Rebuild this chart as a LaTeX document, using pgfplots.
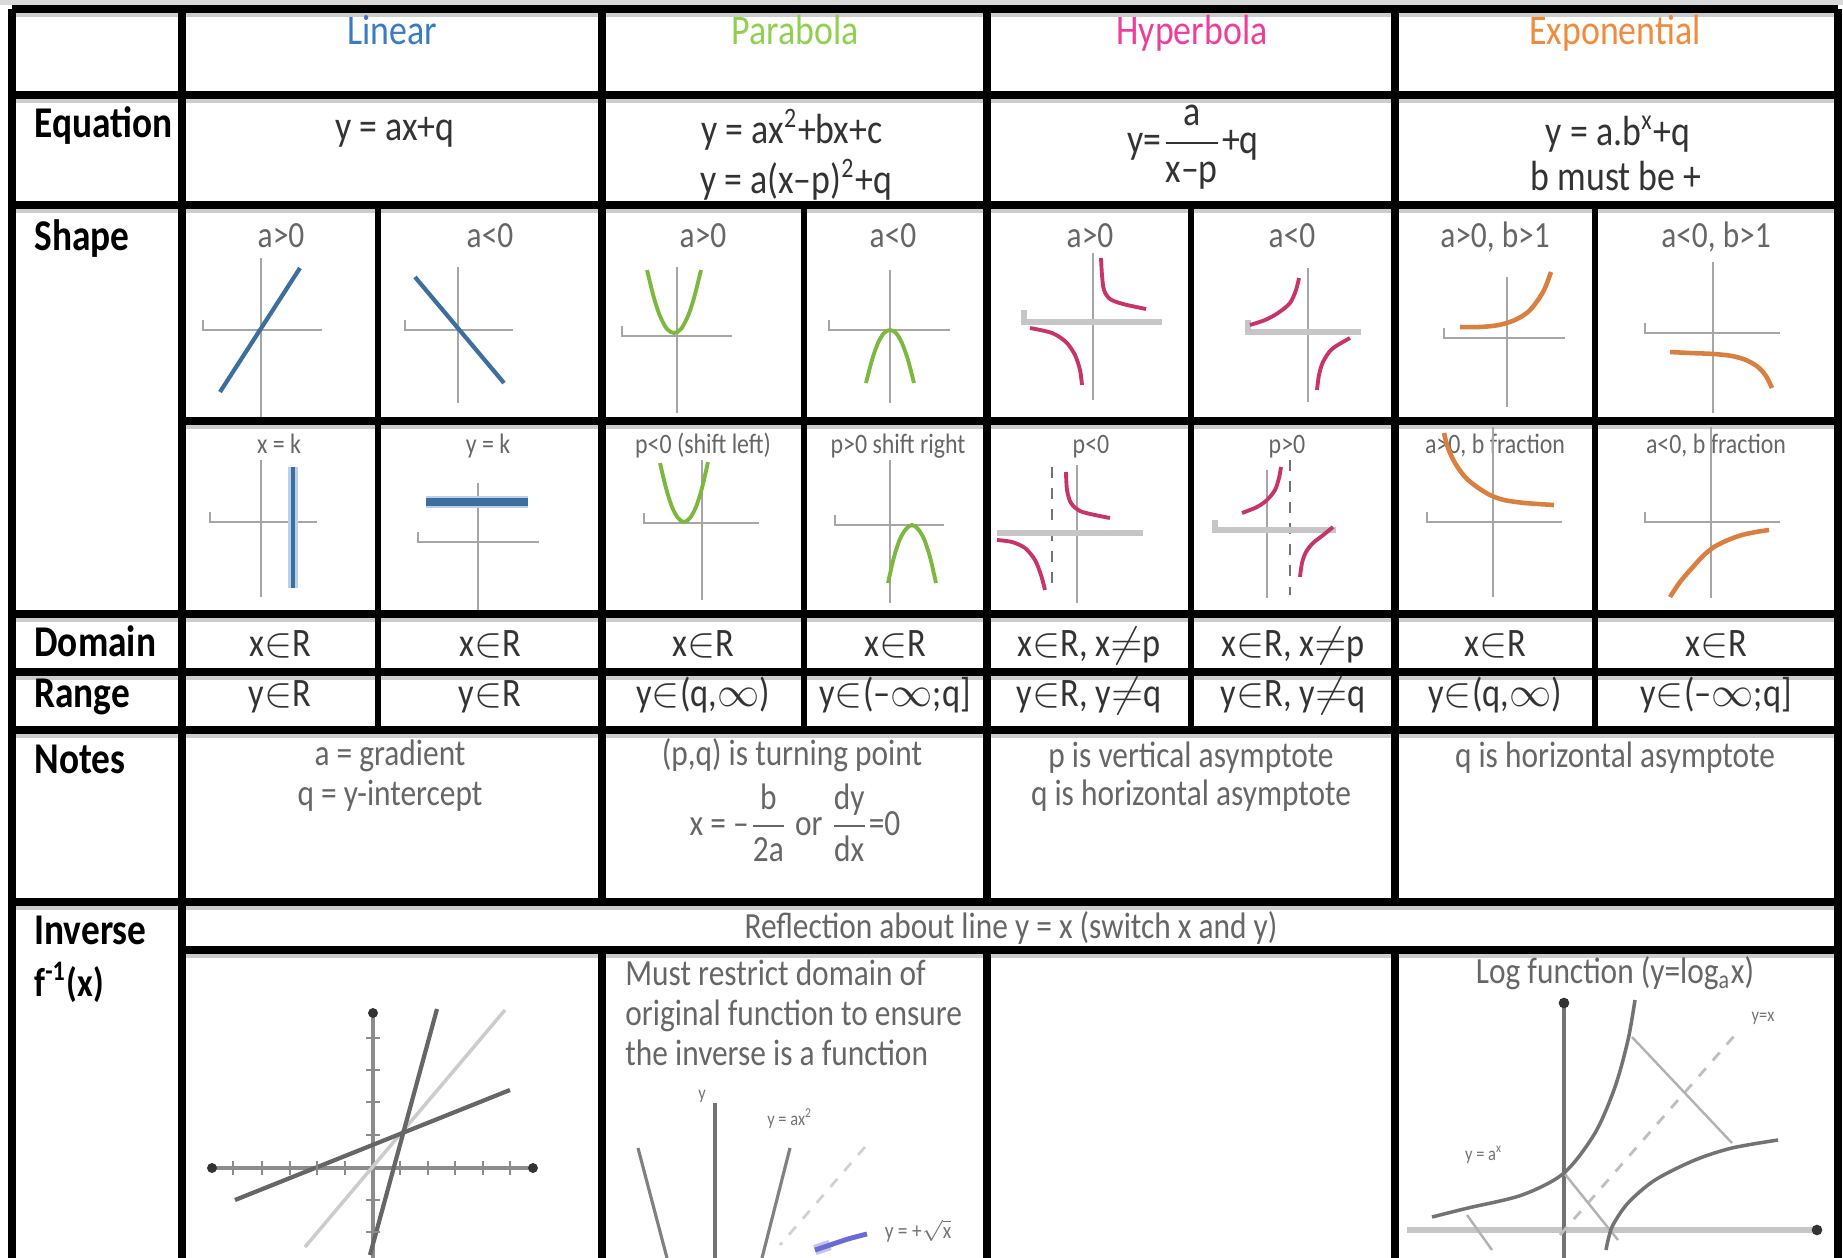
\documentclass[border=0pt]{standalone}
\usepackage{pgfplots}
\pgfplotsset{compat=1.18}
\usepackage{fontspec}
\setmainfont{Carlito}[FakeStretch=0.85]

\definecolor{linblue}{HTML}{3A7CC4}
\definecolor{parg}{HTML}{8FD14F}
\definecolor{hypm}{HTML}{EE3E9B}
\definecolor{expo}{HTML}{F08A3C}
\definecolor{lineb}{HTML}{3E6E9E}
\definecolor{curveg}{HTML}{7DB83E}
\definecolor{curvem}{HTML}{C8346A}
\definecolor{curveo}{HTML}{D98040}
\definecolor{axg}{HTML}{A6A6A6}
\definecolor{sqrtc}{HTML}{6B6BD6}

\tikzset{
  ax/.style={axg, line width=0.6pt},
  axb/.style={gray!45, line width=1.6pt},
  asy/.style={black!55, line width=0.6pt, dashed},
  lin/.style={lineb, line width=1.2pt},
  par/.style={curveg, line width=1.1pt},
  hyp/.style={curvem, line width=1.1pt},
  ex/.style={curveo, line width=1.3pt},
  inv/.style={black!60, line width=1.2pt},
  grid/.style={black, line width=2pt},
  sub/.style={black, line width=1.6pt},
  halo/.style={gray!40, line width=3pt},
  rowlab/.style={anchor=base west, font=\fontsize{12.5}{15}\selectfont\bfseries, text=black},
  head/.style={anchor=base, font=\fontsize{12}{14}\selectfont},
  eqn/.style={anchor=base, font=\fontsize{12}{14}\selectfont, text=black!80},
  lab/.style={anchor=base, font=\fontsize{10.5}{12}\selectfont, text=black!60},
  labs/.style={anchor=base, font=\fontsize{8}{10}\selectfont, text=black!60},
  dr/.style={anchor=base, font=\fontsize{11.5}{13}\selectfont, text=black!80},
  note/.style={anchor=base, font=\fontsize{10.5}{12}\selectfont, text=black!60},
  tiny/.style={anchor=base, font=\fontsize{5.5}{6}\selectfont, text=black!55},
}

\begin{document}
\begin{tikzpicture}
\begin{axis}[
  width=18.43cm, height=12.58cm, scale only axis,
  xmin=0, xmax=1843, ymin=0, ymax=1258, y dir=reverse,
  hide axis, clip=false,
]
% ---- table grid ----
\fill[gray!30] (0,0) rectangle (1843,5);
\draw[halo] (12,12) -- (1838,12);
\draw[halo] (12,98) -- (1838,98);
\draw[halo] (12,208) -- (1838,208);
\draw[halo] (182,424) -- (1838,424);
\draw[halo] (12,617) -- (1838,617);
\draw[halo] (12,675) -- (1838,675);
\draw[halo] (12,733) -- (1838,733);
\draw[halo] (12,905) -- (1838,905);
\draw[halo] (182,953) -- (1838,953);
\draw[grid] (12,9) -- (1838,9);
\draw[grid] (12,95) -- (1838,95);
\draw[grid] (12,205) -- (1838,205);
\draw[grid] (182,421) -- (1838,421);
\draw[grid] (12,614) -- (1838,614);
\draw[grid] (12,672) -- (1838,672);
\draw[grid] (12,730) -- (1838,730);
\draw[grid] (12,902) -- (1838,902);
\draw[grid] (182,950) -- (1838,950);
\draw[grid] (12,9) -- (12,1258);
\draw[grid] (182,9) -- (182,1258);
\draw[grid] (1838,9) -- (1838,1258);
\draw[grid] (602,9) -- (602,902);
\draw[grid] (602,950) -- (602,1258);
\draw[grid] (987,9) -- (987,902);
\draw[grid] (987,950) -- (987,1258);
\draw[grid] (1395,9) -- (1395,902);
\draw[grid] (1395,950) -- (1395,1258);
\draw[sub] (378,205) -- (378,730);
\draw[sub] (804,205) -- (804,730);
\draw[sub] (1191,205) -- (1191,730);
\draw[sub] (1595,205) -- (1595,730);

% ---- row labels ----
\node[rowlab] at (22,137) {Equation};
\node[rowlab] at (22,250) {Shape};
\node[rowlab] at (22,656) {Domain};
\node[rowlab] at (22,707) {Range};
\node[rowlab] at (22,773) {Notes};
\node[rowlab] at (22,944) {Inverse};
\node[rowlab, font=\fontsize{11.5}{13}\selectfont\bfseries] at (22,996) {f\textsuperscript{-1}(x)};

% ---- headers ----
\node[head, text=linblue] at (392,44) {Linear};
\node[head, text=parg] at (795,44) {Parabola};
\node[head, text=hypm] at (1192,44) {Hyperbola};
\node[head, text=expo] at (1615,44) {Exponential};

% ---- equations ----
\node[eqn] at (395,140) {y = ax+q};
\node[eqn] at (792,143) {y = ax\textsuperscript{2}+bx+c};
\node[eqn] at (796,193) {y = a(x–p)\textsuperscript{2}+q};
\node[eqn, anchor=center] at (1193,147) {y=$\displaystyle\frac{\mbox{a}}{\mbox{x–p}}$+q};
\node[eqn] at (1618,145) {y = a.b\textsuperscript{x}+q};
\node[eqn] at (1616,190) {b must be +};

% ---- shape labels ----
\node[lab] at (281,247) {a>0};
\node[lab] at (490,247) {a<0};
\node[lab] at (703,247) {a>0};
\node[lab] at (893,247) {a<0};
\node[lab] at (1090,247) {a>0};
\node[lab] at (1292,247) {a<0};
\node[lab] at (1495,247) {a>0, b>1};
\node[lab] at (1716,247) {a<0, b>1};
\node[labs] at (279,453) {x = k};
\node[labs] at (488,453) {y = k};
\node[labs] at (703,453) {p<0 (shift left)};
\node[labs] at (898,453) {p>0 shift right};
\node[labs] at (1091,453) {p<0};
\node[labs] at (1287,453) {p>0};
\node[labs] at (1495,453) {a>0, b fraction};
\node[labs] at (1716,453) {a<0, b fraction};

% ---- shape graphs: linear ----
\addplot[ax] coordinates {(261,258) (261,417)};
\addplot[ax] coordinates {(203,320) (203,330) (322,330)};
\addplot[lin] coordinates {(220,392) (300,268)};

\addplot[ax] coordinates {(458,267) (458,403)};
\addplot[ax] coordinates {(405,320) (405,330) (513,330)};
\addplot[lin] coordinates {(415,277) (504,383)};

\addplot[ax] coordinates {(261,460) (261,597)};
\addplot[ax] coordinates {(210,512) (210,522) (317,522)};
\addplot[linblue!35, line width=2.6pt] coordinates {(293,467) (293,588)};
\addplot[lineb, line width=1.3pt] coordinates {(293,467) (293,588)};

\addplot[ax] coordinates {(478,483) (478,610)};
\addplot[ax] coordinates {(418,532) (418,542) (539,542)};
\addplot[linblue!35, line width=3.4pt] coordinates {(426,502) (528,502)};
\addplot[lineb, line width=2.2pt] coordinates {(426,502) (528,502)};

% ---- parabola ----
\addplot[ax] coordinates {(677,267) (677,413)};
\addplot[ax] coordinates {(622,326) (622,336) (732,336)};
\addplot[par, smooth] coordinates {(647,270) (654,298) (660,316) (667,329) (674,333) (681,329) (688,316) (694,298) (701,270)};

\addplot[ax] coordinates {(890,270) (890,403)};
\addplot[ax] coordinates {(829,320) (829,330) (950,330)};
\addplot[par, smooth] coordinates {(866,383) (872,360) (878,343) (884,333) (890,330) (896,333) (902,343) (908,360) (914,383)};

\addplot[ax] coordinates {(702,460) (702,600)};
\addplot[ax] coordinates {(644,513) (644,523) (759,523)};
\addplot[par, smooth] coordinates {(660,463) (666,488) (672,507) (678,518) (684,522) (690,518) (696,507) (702,488) (708,462)};

\addplot[ax] coordinates {(890,460) (890,603)};
\addplot[ax] coordinates {(835,515) (835,525) (944,525)};
\addplot[par, smooth] coordinates {(888,583) (894,557) (900,539) (906,529) (912,525) (918,529) (924,539) (930,557) (936,583)};

% ---- hyperbola ----
\addplot[ax] coordinates {(1093,253) (1093,400)};
\addplot[axb] coordinates {(1024,310) (1024,322) (1162,322)};
\addplot[hyp, smooth] coordinates {(1101,258) (1102,275) (1104,290) (1110,299) (1123,304) (1146,309)};
\addplot[hyp, smooth] coordinates {(1030,328) (1052,333) (1066,342) (1075,355) (1080,370) (1082,385)};

\addplot[ax] coordinates {(1308,268) (1308,402)};
\addplot[axb] coordinates {(1248,320) (1248,332) (1361,332)};
\addplot[hyp, smooth] coordinates {(1250,325) (1265,320) (1278,313) (1290,303) (1296,290) (1299,278)};
\addplot[hyp, smooth] coordinates {(1317,390) (1319,375) (1323,362) (1332,349) (1350,338)};

\addplot[ax] coordinates {(1077,465) (1077,603)};
\addplot[asy] coordinates {(1052,467) (1052,590)};
\addplot[axb] coordinates {(997,533) (1143,533)};
\addplot[hyp, smooth] coordinates {(1066,472) (1067,490) (1071,503) (1080,511) (1095,515) (1110,518)};
\addplot[hyp, smooth] coordinates {(997,540) (1012,542) (1025,548) (1035,560) (1041,575) (1045,590)};

\addplot[ax] coordinates {(1267,470) (1267,598)};
\addplot[asy] coordinates {(1290,460) (1290,595)};
\addplot[axb] coordinates {(1215,520) (1215,530) (1336,530)};
\addplot[hyp, smooth] coordinates {(1242,513) (1257,507) (1267,500) (1275,490) (1279,478) (1281,467)};
\addplot[hyp, smooth] coordinates {(1300,577) (1302,563) (1306,552) (1313,543) (1322,536) (1333,527)};

% ---- exponential ----
\addplot[ax] coordinates {(1507,277) (1507,407)};
\addplot[ax] coordinates {(1444,328) (1444,338) (1565,338)};
\addplot[ex, smooth] coordinates {(1460,327) (1480,327) (1499,325) (1515,320) (1528,312) (1538,300) (1545,288) (1551,272)};

\addplot[ax] coordinates {(1713,262) (1713,413)};
\addplot[ax] coordinates {(1645,323) (1645,333) (1780,333)};
\addplot[ex, smooth] coordinates {(1670,352) (1690,353) (1714,354) (1732,356) (1746,360) (1758,367) (1766,376) (1772,388)};

\addplot[ax] coordinates {(1493,427) (1493,597)};
\addplot[ax] coordinates {(1427,512) (1427,522) (1562,522)};
\addplot[ex, smooth] coordinates {(1444,433) (1448,448) (1455,463) (1465,477) (1477,487) (1490,495) (1504,500) (1525,503) (1554,505)};

\addplot[ax] coordinates {(1711,427) (1711,598)};
\addplot[ax] coordinates {(1645,512) (1645,522) (1780,522)};
\addplot[ex, smooth] coordinates {(1670,597) (1680,582) (1692,568) (1703,556) (1714,547) (1728,540) (1742,535) (1756,532) (1769,530)};

% ---- domain / range ----
\node[dr] at (280,656) {x$\in$R};
\node[dr] at (490,656) {x$\in$R};
\node[dr] at (703,656) {x$\in$R};
\node[dr] at (895,656) {x$\in$R};
\node[dr] at (1089,656) {x$\in$R, x$\neq$p};
\node[dr] at (1293,656) {x$\in$R, x$\neq$p};
\node[dr] at (1495,656) {x$\in$R};
\node[dr] at (1716,656) {x$\in$R};
\node[dr] at (280,706) {y$\in$R};
\node[dr] at (490,706) {y$\in$R};
\node[dr] at (703,706) {y$\in$(q,$\infty$)};
\node[dr] at (895,706) {y$\in$(–$\infty$;q]};
\node[dr] at (1089,706) {y$\in$R, y$\neq$q};
\node[dr] at (1293,706) {y$\in$R, y$\neq$q};
\node[dr] at (1495,706) {y$\in$(q,$\infty$)};
\node[dr] at (1716,706) {y$\in$(–$\infty$;q]};

% ---- notes ----
\node[note] at (390,765) {a = gradient};
\node[note] at (390,805) {q = y-intercept};
\node[note] at (792,765) {(p,q) is turning point};
\node[note, anchor=center] at (795,823) {x = –$\displaystyle\frac{\mbox{b}}{\mbox{2a}}$ or $\displaystyle\frac{\mbox{dy}}{\mbox{dx}}$=0};
\node[note] at (1191,767) {p is vertical asymptote};
\node[note] at (1191,805) {q is horizontal asymptote};
\node[note] at (1615,767) {q is horizontal asymptote};

% ---- inverse ----
\node[note] at (1011,938) {Reflection about line y = x (switch x and y)};
\node[note, anchor=base west] at (613,985) {Must restrict domain of};
\node[note, anchor=base west] at (613,1025) {original function to ensure};
\node[note, anchor=base west] at (613,1065) {the inverse is a function};
\node[note] at (1615,983) {Log function (y=log\textsubscript{a}x)};

% linear inverse
\addplot[black!45, line width=1pt] coordinates {(212,1168) (533,1168)};
\addplot[black!45, only marks, mark=|, mark size=2pt] coordinates {(233,1168) (262,1168) (290,1168) (317,1168) (345,1168) (400,1168) (428,1168) (455,1168) (483,1168) (510,1168)};
\addplot[black!45, line width=1pt] coordinates {(373,1013) (373,1258)};
\addplot[black!45, only marks, mark=-, mark size=2pt] coordinates {(373,1038) (373,1070) (373,1102) (373,1135) (373,1200) (373,1232)};
\addplot[black!80, only marks, mark=*, mark size=1.2pt] coordinates {(212,1168) (533,1168) (373,1013)};
\addplot[gray!40, line width=1pt] coordinates {(505,1010) (305,1247)};
\addplot[inv] coordinates {(437,1009) (370,1255)};
\addplot[inv] coordinates {(235,1200) (510,1090)};

% parabola inverse
\addplot[black!55, line width=0.9pt] coordinates {(715,1103) (715,1258)};
\addplot[black!50, line width=0.9pt] coordinates {(638,1148) (667,1258)};
\addplot[black!50, line width=0.9pt] coordinates {(790,1148) (762,1258)};
\addplot[gray!35, dashed, line width=0.8pt] coordinates {(865,1147) (780,1245)};
\addplot[sqrtc!40, line width=3pt] coordinates {(815,1250) (830,1245)};
\addplot[sqrtc, line width=1.4pt, smooth] coordinates {(815,1250) (830,1245) (848,1239) (867,1234)};
\node[tiny] at (702,1099) {y};
\node[tiny] at (790,1125) {y = ax\textsuperscript{2}};
\node[tiny, font=\fontsize{6.5}{7}\selectfont] at (918,1238) {y = +$\sqrt{\mbox{x}}$};

% log
\addplot[gray!45, line width=1.6pt] coordinates {(1407,1230) (1817,1230)};
\addplot[black!55, line width=0.9pt] coordinates {(1564,1003) (1564,1258)};
\addplot[black!80, only marks, mark=*, mark size=1.3pt] coordinates {(1564,1003) (1817,1230)};
\addplot[gray!50, dashed, line width=0.8pt] coordinates {(1560,1235) (1735,1035)};
\addplot[gray!60, line width=0.7pt] coordinates {(1632,1037) (1732,1143)};
\addplot[gray!60, line width=0.7pt] coordinates {(1564,1173) (1618,1240)};
\addplot[gray!60, line width=0.7pt] coordinates {(1467,1215) (1492,1250)};
\addplot[black!55, line width=1pt, smooth] coordinates {(1432,1217) (1468,1208) (1522,1195) (1564,1173) (1595,1133) (1615,1087) (1628,1040) (1635,1000)};
\addplot[black!55, line width=1pt, smooth] coordinates {(1606,1250) (1612,1227) (1628,1203) (1655,1180) (1695,1160) (1732,1148) (1778,1140)};
\node[tiny] at (1763,1021) {y=x};
\node[tiny] at (1484,1160) {y = a\textsuperscript{x}};
\end{axis}
\pgfresetboundingbox
\useasboundingbox (current axis.south west) rectangle (current axis.north east);
\end{tikzpicture}
\end{document}
